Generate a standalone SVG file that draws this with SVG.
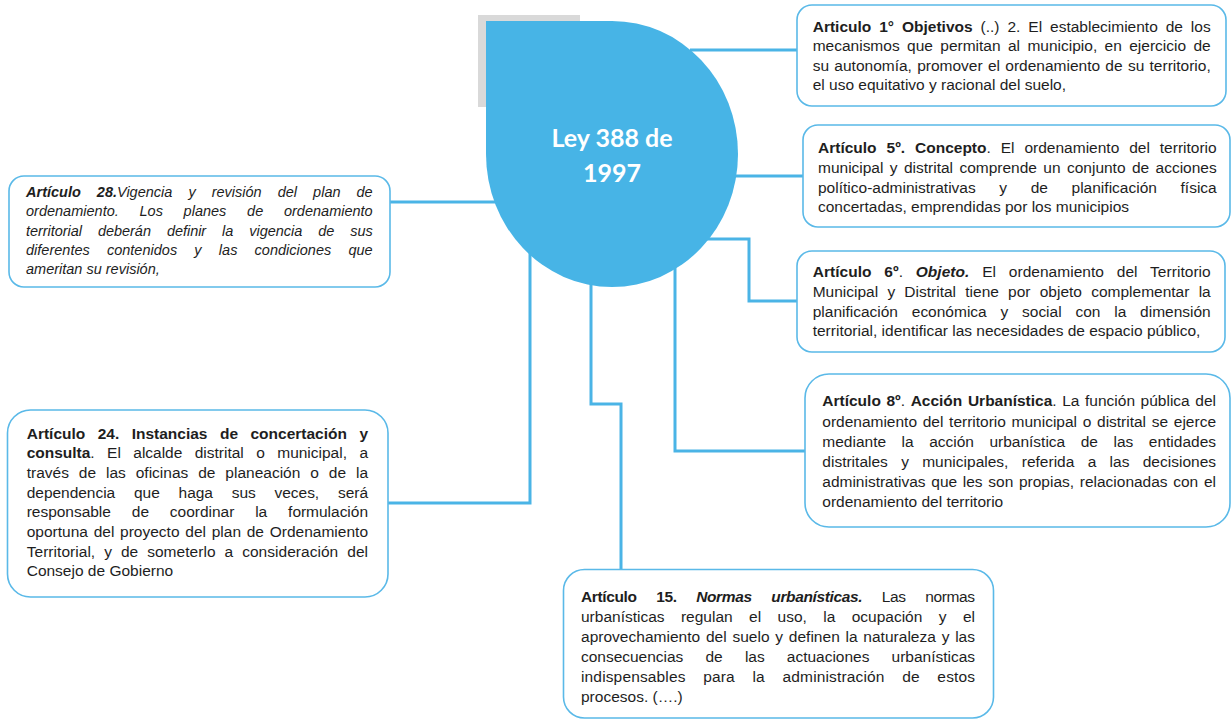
<svg xmlns="http://www.w3.org/2000/svg" width="1231" height="720" viewBox="0 0 1231 720">
<style>
.box{fill:#ffffff;stroke:#5ab9e8;stroke-width:1.6}
.con{fill:none;stroke:#4ab4e6;stroke-width:3}
.t{font-family:"Liberation Sans",Arial,sans-serif;font-size:15.5px;fill:#1e1e1e}
.s{font-size:14.5px;font-style:italic}
.b{font-weight:bold}
.bi{font-weight:bold;font-style:italic}
.hub{font-family:Lato,"Open Sans",sans-serif;font-weight:bold;font-size:25px;fill:#ffffff}
</style>
<rect width="1231" height="720" fill="#ffffff"/>
<g id="connectors">
<path class="con" d="M690,50 H797"/>
<path class="con" d="M734,176 H803"/>
<path class="con" d="M706,239 H749 V301 H797"/>
<path class="con" d="M675,256 V451 H805"/>
<path class="con" d="M591,284 V404 H621 V569"/>
<path class="con" d="M530,250 V503 H388"/>
<path class="con" d="M390,202 H497"/>
</g>
<g id="hub">
<rect x="478" y="15" width="102" height="92" fill="#d9d9d9"/>
<path d="M486,21 H612 A126,133 0 0 1 738,154 A126,133 0 0 1 612,287 A126,133 0 0 1 486,154 Z" fill="#47b4e6"/>
<text class="hub" x="612" y="147" text-anchor="middle">Ley 388 de</text>
<text class="hub" x="612" y="182" text-anchor="middle">1997</text>
</g>
<g id="art1">
<rect class="box" x="797" y="5" width="429" height="101" rx="15"/>
<text class="t" x="812.7" y="31.5" word-spacing="3.6" textLength="398" lengthAdjust="spacing"><tspan class="b">Articulo 1° Objetivos</tspan> (..) 2. El establecimiento de los</text>
<text class="t" x="812.7" y="51" word-spacing="3.1" textLength="398" lengthAdjust="spacing">mecanismos que permitan al municipio, en ejercicio de</text>
<text class="t" x="812.7" y="70.5" word-spacing="1" textLength="398" lengthAdjust="spacing">su autonomía, promover el ordenamiento de su territorio,</text>
<text class="t" x="812.7" y="90">el uso equitativo  y racional del suelo,</text>
</g>
<g id="art5">
<rect class="box" x="803" y="125" width="427" height="102" rx="15"/>
<text class="t" x="818" y="152.5" word-spacing="5.6" textLength="398.7" lengthAdjust="spacing"><tspan class="b">Artículo 5º. Concepto</tspan>. El ordenamiento del territorio</text>
<text class="t" x="818" y="172.5" word-spacing="2.1" textLength="398.7" lengthAdjust="spacing">municipal y distrital comprende un conjunto de acciones</text>
<text class="t" x="818" y="192.5" word-spacing="19.3" textLength="398.7" lengthAdjust="spacing">político-administrativas y de planificación física</text>
<text class="t" x="818" y="212">concertadas, emprendidas por los municipios</text>
</g>
<g id="art6">
<rect class="box" x="797" y="251" width="428" height="101" rx="15"/>
<text class="t" x="812.7" y="276.5" word-spacing="8.4" textLength="398" lengthAdjust="spacing"><tspan class="b">Artículo 6º</tspan>. <tspan class="bi">Objeto.</tspan> El ordenamiento del Territorio</text>
<text class="t" x="812.7" y="296.5" word-spacing="4.9" textLength="398" lengthAdjust="spacing">Municipal y Distrital tiene por objeto complementar la</text>
<text class="t" x="812.7" y="316.5" word-spacing="9.5" textLength="398" lengthAdjust="spacing">planificación económica y social con la dimensión</text>
<text class="t" x="812.7" y="336">territorial, identificar las necesidades de espacio público,</text>
</g>
<g id="art8">
<rect class="box" x="805" y="374" width="425" height="153" rx="24"/>
<text class="t" x="822.3" y="406" word-spacing="1.3" textLength="393.7" lengthAdjust="spacing"><tspan class="b">Artículo 8º</tspan>. <tspan class="b">Acción Urbanística</tspan>. La función pública del</text>
<text class="t" x="822.3" y="426.5" word-spacing="1.4" textLength="393.7" lengthAdjust="spacing">ordenamiento del territorio municipal o distrital se ejerce</text>
<text class="t" x="822.3" y="446.5" word-spacing="11.2" textLength="393.7" lengthAdjust="spacing">mediante la acción urbanística de las entidades</text>
<text class="t" x="822.3" y="466.5" word-spacing="9" textLength="393.7" lengthAdjust="spacing">distritales y municipales, referida a las decisiones</text>
<text class="t" x="822.3" y="486.5" word-spacing="1.4" textLength="393.7" lengthAdjust="spacing">administrativas que les son propias, relacionadas con el</text>
<text class="t" x="822.3" y="506.5">ordenamiento del territorio</text>
</g>
<g id="art28">
<rect class="box" x="9" y="176" width="381" height="111" rx="15"/>
<text class="t s" x="26" y="196.5" word-spacing="12" textLength="346.7" lengthAdjust="spacing"><tspan class="bi">Artículo 28.</tspan>Vigencia y revisión del plan de</text>
<text class="t s" x="26" y="216" word-spacing="16.7" textLength="346.7" lengthAdjust="spacing">ordenamiento. Los planes de ordenamiento</text>
<text class="t s" x="26" y="235.5" word-spacing="12" textLength="346.7" lengthAdjust="spacing">territorial deberán definir la vigencia de sus</text>
<text class="t s" x="26" y="255" word-spacing="13.2" textLength="346.7" lengthAdjust="spacing">diferentes contenidos y las condiciones que</text>
<text class="t s" x="26" y="274">ameritan su revisión,</text>
</g>
<g id="art24">
<rect class="box" x="7.5" y="410" width="380.5" height="187" rx="23"/>
<text class="t" x="26.7" y="438.5" word-spacing="8.2" textLength="341.3" lengthAdjust="spacing"><tspan class="b">Artículo 24. Instancias de concertación y</tspan></text>
<text class="t" x="26.7" y="458" word-spacing="8.1" textLength="341.3" lengthAdjust="spacing"><tspan class="b">consulta</tspan>. El alcalde distrital o municipal, a</text>
<text class="t" x="26.7" y="477.5" word-spacing="5.6" textLength="341.3" lengthAdjust="spacing">través de las oficinas de planeación o de la</text>
<text class="t" x="26.7" y="497.5" word-spacing="14.5" textLength="341.3" lengthAdjust="spacing">dependencia que haga sus veces, será</text>
<text class="t" x="26.7" y="517" word-spacing="16.6" textLength="341.3" lengthAdjust="spacing">responsable de coordinar la formulación</text>
<text class="t" x="26.7" y="536.5" word-spacing="1.4" textLength="341.3" lengthAdjust="spacing">oportuna del proyecto del plan de Ordenamiento</text>
<text class="t" x="26.7" y="556.5" word-spacing="4.6" textLength="341.3" lengthAdjust="spacing">Territorial, y de someterlo a consideración del</text>
<text class="t" x="26.7" y="576">Consejo de Gobierno</text>
</g>
<g id="art15">
<rect class="box" x="563.5" y="569.5" width="430" height="148.5" rx="21"/>
<text class="t" x="581" y="601.5" word-spacing="15.6" textLength="394" lengthAdjust="spacing"><tspan class="b">Artículo 15. </tspan><tspan class="bi">Normas urbanísticas.</tspan> Las normas</text>
<text class="t" x="581" y="621.5" word-spacing="12.1" textLength="394" lengthAdjust="spacing">urbanísticas regulan el uso, la ocupación y el</text>
<text class="t" x="581" y="641.5" word-spacing="1.4" textLength="394" lengthAdjust="spacing">aprovechamiento del suelo y definen la naturaleza y las</text>
<text class="t" x="581" y="661.5" word-spacing="17.9" textLength="394" lengthAdjust="spacing">consecuencias de las actuaciones urbanísticas</text>
<text class="t" x="581" y="681.5" word-spacing="13.2" textLength="394" lengthAdjust="spacing">indispensables para la administración de estos</text>
<text class="t" x="581" y="701.5">procesos. (….)</text>
</g>
</svg>
